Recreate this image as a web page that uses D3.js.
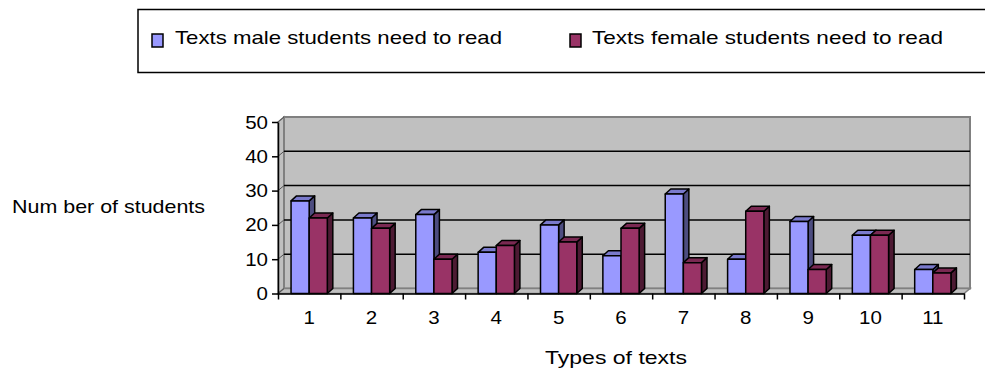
<!DOCTYPE html>
<html>
<head>
<meta charset="utf-8">
<script src="https://cdn.jsdelivr.net/npm/d3@7"></script>
<style>
  html, body { margin: 0; padding: 0; background: #fff; }
  svg { display: block; }
  text { font-family: "Liberation Sans", Arial, sans-serif; fill: #000; }
</style>
</head>
<body>
<svg id="chart" width="985" height="373"></svg>
<script>
// ---- data ----
const categories = ["1", "2", "3", "4", "5", "6", "7", "8", "9", "10", "11"];
const male = [27, 22, 23, 12, 20, 11, 29, 10, 21, 17, 7];
const female = [22, 19, 10, 14, 15, 19, 9, 24, 7, 17, 6];
const seriesNames = ["Texts male students need to read", "Texts female students need to read"];
const yTicks = [0, 10, 20, 30, 40, 50];
const yTitle = "Num ber of students";
const xTitle = "Types of texts";

// ---- styles ----
const colors = [
  { front: "#9999ff", top: "#7a7acc", side: "#4d4d80" },
  { front: "#993366", top: "#7a2952", side: "#4d1a33" }
];

const svg = d3.select("#chart");
const left = 278, right = 964, bottom = 293.5, topY = 122;
const wdx = 6, wdy = 5;      // wall depth offset
const bdx = 5.5, bdy = 5;    // bar depth offset

const x = d3.scaleBand().domain(categories).range([left, right]).paddingInner(0).paddingOuter(0);
const xs = d3.scaleBand().domain([0, 1]).range([0, x.bandwidth()]).paddingInner(0).paddingOuter(0.72);
const y = d3.scaleLinear().domain([0, 50]).range([bottom, topY]);

const pts = a => a.map(p => p.join(",")).join(" ");

// side wall
svg.append("polygon")
  .attr("points", pts([[left, y(0)], [left, y(50)], [left + wdx, y(50) - wdy], [left + wdx, y(0) - wdy]]))
  .attr("fill", "#c0c0c0").attr("stroke", "#808080").attr("stroke-width", 1.5);
// back wall
svg.append("rect")
  .attr("x", left + wdx).attr("y", y(50) - wdy)
  .attr("width", right - left).attr("height", y(0) - y(50))
  .attr("fill", "#c0c0c0").attr("stroke", "#808080").attr("stroke-width", 2);
// floor
svg.append("polygon")
  .attr("points", pts([[left, y(0)], [right, y(0)], [right + wdx, y(0) - wdy], [left + wdx, y(0) - wdy]]))
  .attr("fill", "#c0c0c0").attr("stroke", "#808080").attr("stroke-width", 1.5);

// gridlines on back wall + side wall diagonals
const grid = svg.append("g");
yTicks.filter(v => v > 0 && v < 50).forEach(v => {
  grid.append("line")
    .attr("x1", left + wdx).attr("x2", right + wdx)
    .attr("y1", y(v) - wdy).attr("y2", y(v) - wdy)
    .attr("stroke", "#000").attr("stroke-width", 1.5);
});
yTicks.forEach(v => {
  grid.append("line")
    .attr("x1", left).attr("x2", left + wdx)
    .attr("y1", y(v)).attr("y2", y(v) - wdy)
    .attr("stroke", "#555").attr("stroke-width", 1);
});

// bars
const series = [male, female];
const barsG = svg.append("g");
categories.forEach((c, i) => {
  series.forEach((vals, s) => {
    const v = vals[i];
    const bx = x(c) + xs(s), bw = xs.bandwidth();
    const yt = y(v), yb = y(0);
    const g = barsG.append("g").attr("stroke", "#000").attr("stroke-width", 1.5).attr("stroke-linejoin", "round");
    g.append("polygon")
      .attr("points", pts([[bx + bw, yt], [bx + bw + bdx, yt - bdy], [bx + bw + bdx, yb - bdy], [bx + bw, yb]]))
      .attr("fill", colors[s].side);
    g.append("polygon")
      .attr("points", pts([[bx, yt], [bx + bdx, yt - bdy], [bx + bw + bdx, yt - bdy], [bx + bw, yt]]))
      .attr("fill", colors[s].top);
    g.append("rect")
      .attr("x", bx).attr("y", yt).attr("width", bw).attr("height", yb - yt)
      .attr("fill", colors[s].front);
  });
});

// y axis
const yAxis = svg.append("g").attr("transform", `translate(${left},0)`)
  .call(d3.axisLeft(y).tickValues(yTicks).tickSize(6).tickSizeOuter(0).tickFormat(""));
yAxis.select(".domain").attr("stroke", "#000").attr("stroke-width", 1.5);
yAxis.selectAll(".tick line").attr("stroke", "#000").attr("stroke-width", 1.5);

// x axis (boundaries)
const xb = d3.scaleLinear().domain([0, categories.length]).range([left, right]);
const xAxis = svg.append("g").attr("transform", `translate(0,${bottom})`)
  .call(d3.axisBottom(xb).tickValues(d3.range(0, categories.length + 1)).tickSize(6).tickSizeOuter(0).tickFormat(""));
xAxis.select(".domain").attr("stroke", "#000").attr("stroke-width", 1.5);
xAxis.selectAll(".tick line").attr("stroke", "#000").attr("stroke-width", 1.5);

// stretched text helper
const SX = 1.08, FS = 19;
function stext(px, py, str, anchor) {
  return svg.append("text")
    .attr("transform", `translate(${px},${py}) scale(${SX},1)`)
    .attr("text-anchor", anchor).style("font-size", FS + "px").text(str);
}
function ltext(px, py, str, len) {
  return svg.append("text").attr("x", px).attr("y", py)
    .attr("textLength", len).attr("lengthAdjust", "spacingAndGlyphs")
    .style("font-size", FS + "px").text(str);
}

// y tick labels
yTicks.forEach(v => stext(268, y(v) + 6.5, String(v), "end"));
// x tick labels
categories.forEach(c => stext(x(c) + x.bandwidth() / 2, 324, c, "middle"));

// titles
ltext(12, 213, yTitle, 193);
ltext(545, 364, xTitle, 142);

// legend
svg.append("rect").attr("x", 138).attr("y", 9.5).attr("width", 860).attr("height", 63)
  .attr("fill", "#fff").attr("stroke", "#000").attr("stroke-width", 1.5);
const legX = [152, 570], legTX = [175, 592], legLen = [327, 351];
seriesNames.forEach((n, s) => {
  svg.append("rect").attr("x", legX[s]).attr("y", 34).attr("width", 11).attr("height", 13)
    .attr("fill", colors[s].front).attr("stroke", "#000").attr("stroke-width", 1.5);
  ltext(legTX[s], 44, n, legLen[s]);
});
</script>
</body>
</html>
